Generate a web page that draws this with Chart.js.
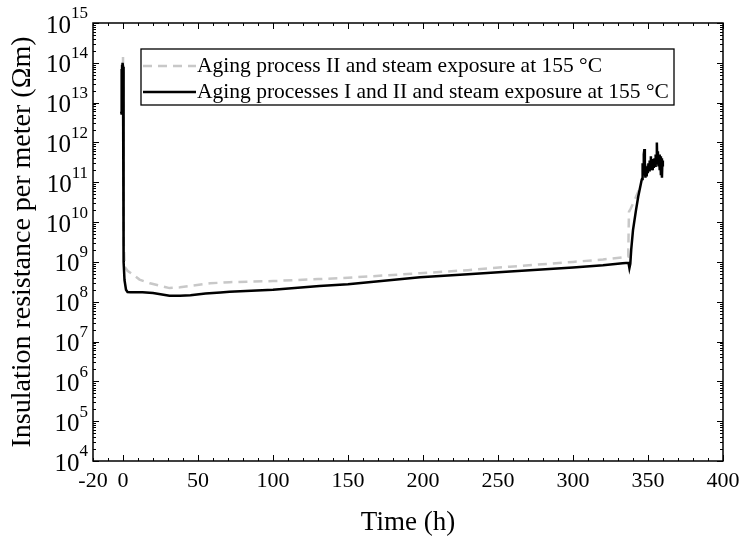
<!DOCTYPE html>
<html>
<head>
<meta charset="utf-8">
<script src="https://cdn.jsdelivr.net/npm/chart.js@4"></script>
<style>
  html, body { margin: 0; padding: 0; background: #fff; }
  #wrap { width: 741px; height: 538px; position: relative; }
</style>
</head>
<body>
<div id="wrap"><canvas id="c" width="741" height="538"></canvas></div>
<script>
// ---- data ----
const seriesLabels = [
  'Aging process II and steam exposure at 155 °C',
  'Aging processes I and II and steam exposure at 155 °C'
];
const grayTime = [0, 0.2, 0.5, 1.2, 3, 6, 11, 18, 25, 31, 38, 45, 58, 71, 100, 130, 150, 198, 230, 258, 300, 320, 333, 336.8, 337.3, 338.5, 341, 345];
const grayVals = [1.4e14, 1e11, 3e9, 7.5e8, 6e8, 5e8, 3.6e8, 2.9e8, 2.5e8, 2.2e8, 2.3e8, 2.5e8, 2.9e8, 3.1e8, 3.3e8, 3.7e8, 4.0e8, 5.2e8, 6.2e8, 7.6e8, 1.0e9, 1.15e9, 1.3e9, 1.35e9, 1.8e10, 2.2e10, 3.5e10, 8e10];

const blackTime = [-1.2, -1.0, -0.8, -0.6, -0.4, -0.2, 0, 0.4, 1, 2, 3, 5, 13, 20, 25, 31, 38, 45, 55, 65, 71, 100, 131, 150, 198, 230, 258, 300, 320, 333, 337, 337.6, 338.2, 338.8, 340, 342, 343.5, 345.8,
  346.0, 346.4, 346.8, 347.2, 347.6, 347.9, 348.3, 348.7, 349.1, 349.5, 349.9, 350.3, 350.7, 351.1, 351.5, 351.9, 352.3, 352.7, 353.1, 353.5, 353.9, 354.3, 354.7, 355.1, 355.5, 355.9, 356.2, 356.6, 357.0, 357.4, 357.8, 358.2, 358.6, 359.0, 359.3, 359.6, 359.9];
const blackVals = [6e12, 7e13, 5e12, 9e13, 7e12, 1e14, 8e13, 1e9, 3.5e8, 2e8, 1.75e8, 1.74e8, 1.72e8, 1.65e8, 1.55e8, 1.42e8, 1.42e8, 1.45e8, 1.6e8, 1.7e8, 1.78e8, 2.0e8, 2.5e8, 2.75e8, 4.1e8, 4.9e8, 5.75e8, 7.2e8, 8.2e8, 9.3e8, 9.5e8, 7e8, 9e8, 2e9, 6.3e9, 2e10, 4.4e10, 1.15e11,
  1.2e11, 3e11, 1.6e11, 5e11, 6.8e11, 2e11, 1.3e11, 1.8e11, 1.4e11, 2.5e11, 1.7e11, 3e11, 2e11, 3.5e11, 2.2e11, 4.5e11, 2.4e11, 3.2e11, 2e11, 3.8e11, 2.3e11, 4e11, 2.6e11, 5e11, 3e11, 1e12, 3e11, 6e11, 2.5e11, 5e11, 2e11, 4.5e11, 1.5e11, 4e11, 1.3e11, 3.5e11, 2.5e11];

const xMin = -20, xMax = 400, xStep = 10;
const xLabelTicks = [-20, 0, 50, 100, 150, 200, 250, 300, 350, 400];
const yMinExp = 4, yMaxExp = 15;
const xTitle = 'Time (h)';
const yTitle = 'Insulation resistance per meter (Ωm)';

const toPts = (xs, ys) => xs.map((v, i) => ({ x: v, y: ys[i] }));
const SERIF = '"Liberation Serif", "Times New Roman", serif';

// ---- plugins ----
const frameTicks = {
  id: 'frameTicks',
  afterDatasetsDraw(chart) {
    const { ctx, chartArea: a, scales: { x, y } } = chart;
    ctx.save();
    ctx.strokeStyle = '#000';
    ctx.lineWidth = 1;
    ctx.beginPath();
    x.ticks.forEach(t => {
      const px = Math.round(x.getPixelForValue(t.value)) + 0.5;
      const len = (t.value % 50 === 0) ? 6 : 3;
      ctx.moveTo(px, a.bottom); ctx.lineTo(px, a.bottom - len);
      ctx.moveTo(px, a.top); ctx.lineTo(px, a.top + len);
    });
    for (let k = yMinExp; k <= yMaxExp; k++) {
      for (let m = 1; m <= 9; m++) {
        if (k === yMaxExp && m > 1) break;
        const py = Math.round(y.getPixelForValue(m * Math.pow(10, k))) + 0.5;
        const len = m === 1 ? 6 : 3;
        ctx.moveTo(a.left, py); ctx.lineTo(a.left + len, py);
        ctx.moveTo(a.right, py); ctx.lineTo(a.right - len, py);
      }
    }
    ctx.stroke();
    ctx.lineWidth = 1.5;
    ctx.strokeRect(a.left, a.top, a.right - a.left, a.bottom - a.top);

    // y tick labels: 10 with superscript exponent
    ctx.fillStyle = '#000';
    ctx.textBaseline = 'middle';
    ctx.textAlign = 'left';
    for (let k = yMinExp; k <= yMaxExp; k++) {
      const py = y.getPixelForValue(Math.pow(10, k));
      const exp = String(k);
      ctx.font = '17px ' + SERIF;
      const ew = ctx.measureText(exp).width;
      ctx.font = '25px ' + SERIF;
      const bw = ctx.measureText('10').width;
      const right = a.left - 5;
      ctx.fillText('10', right - ew - bw, py + 3);
      ctx.font = '17px ' + SERIF;
      ctx.fillText(exp, right - ew, py - 9);
    }
    ctx.restore();
  }
};

const boxLegend = {
  id: 'boxLegend',
  afterDraw(chart) {
    const { ctx } = chart;
    const ds = chart.data.datasets;
    const order = [1, 0];
    const L = 141, T = 49, R = 674, B = 105;
    ctx.save();
    ctx.fillStyle = '#fff';
    ctx.fillRect(L, T, R - L, B - T);
    ctx.strokeStyle = '#000';
    ctx.lineWidth = 1.3;
    ctx.strokeRect(L, T, R - L, B - T);
    ctx.font = '21.5px ' + SERIF;
    ctx.textBaseline = 'middle';
    ctx.fillStyle = '#000';
    order.forEach((di, row) => {
      const d = ds[di];
      const cy = T + 17 + row * 26;
      ctx.strokeStyle = d.borderColor;
      ctx.lineWidth = d.borderWidth;
      ctx.setLineDash(d.borderDash || []);
      ctx.beginPath();
      ctx.moveTo(L + 2, cy); ctx.lineTo(L + 55, cy);
      ctx.stroke();
      ctx.setLineDash([]);
      ctx.fillText(d.label, L + 56, cy);
    });
    ctx.restore();
  }
};

new Chart(document.getElementById('c'), {
  type: 'line',
  data: {
    datasets: [
      {
        label: seriesLabels[1],
        data: toPts(blackTime, blackVals),
        borderColor: '#000',
        borderWidth: 2.5,
        pointRadius: 0,
        tension: 0,
        fill: false,
        order: 0
      },
      {
        label: seriesLabels[0],
        data: toPts(grayTime, grayVals),
        borderColor: '#c8c8c8',
        borderWidth: 2.5,
        borderDash: [9, 6],
        pointRadius: 0,
        tension: 0,
        fill: false,
        order: 1
      }
    ]
  },
  options: {
    responsive: false,
    animation: false,
    devicePixelRatio: 1,
    layout: { padding: { left: 0, right: 18, top: 23, bottom: 0 } },
    plugins: { legend: { display: false }, tooltip: { enabled: false } },
    scales: {
      x: {
        type: 'linear',
        min: xMin, max: xMax,
        grid: { display: false, drawTicks: false },
        border: { display: false },
        ticks: {
          stepSize: xStep,
          autoSkip: false,
          maxRotation: 0,
          padding: 7,
          color: '#000',
          font: { family: SERIF, size: 22 },
          callback: v => xLabelTicks.includes(v) ? String(v) : ''
        },
        title: {
          display: true, text: xTitle, color: '#000',
          font: { family: SERIF, size: 27, lineHeight: 1.1 },
          padding: { top: 0, bottom: 0 }
        },
        afterFit: s => { s.height = 77; s.paddingLeft = 0; s.paddingRight = 0; }
      },
      y: {
        type: 'logarithmic',
        min: Math.pow(10, yMinExp), max: Math.pow(10, yMaxExp),
        grid: { display: false, drawTicks: false },
        border: { display: false },
        ticks: { display: false },
        title: {
          display: true, text: yTitle, color: '#000',
          font: { family: SERIF, size: 28, lineHeight: 1.1 },
          padding: { top: 7, bottom: 0 }
        },
        afterFit: s => { s.width = 93; s.paddingTop = 0; s.paddingBottom = 0; }
      }
    }
  },
  plugins: [frameTicks, boxLegend]
});
</script>
</body>
</html>
